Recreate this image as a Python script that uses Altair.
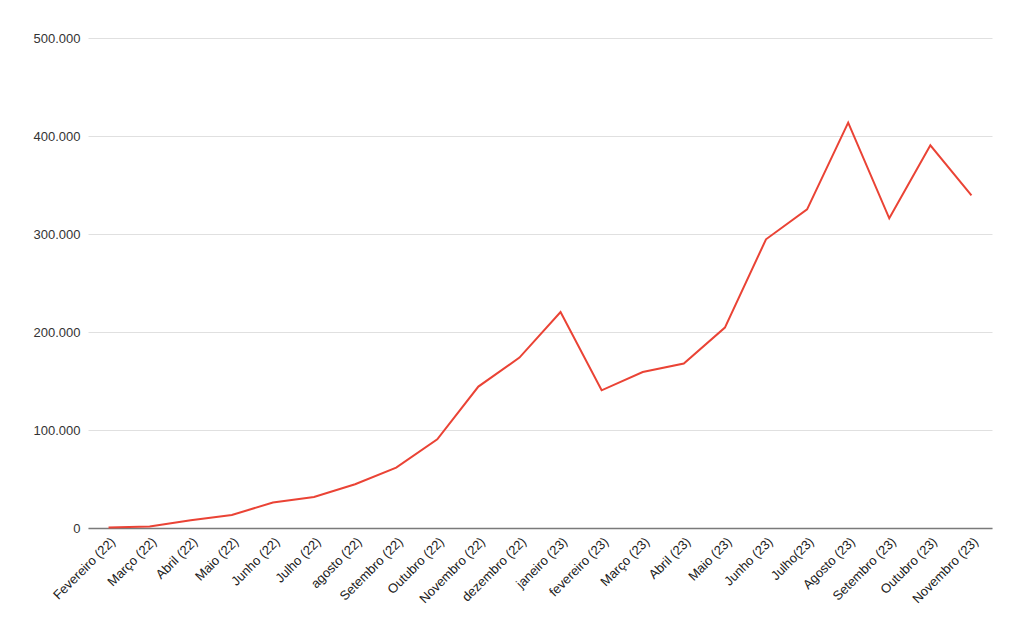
import altair as alt
import pandas as pd

# meses (rótulos como aparecem no gráfico)
meses = [
    "Fevereiro (22)", "Março (22)", "Abril (22)", "Maio (22)", "Junho (22)",
    "Julho (22)", "agosto (22)", "Setembro (22)", "Outubro (22)", "Novembro (22)",
    "dezembro (22)", "janeiro (23)", "fevereiro (23)", "Março (23)", "Abril (23)",
    "Maio (23)", "Junho (23)", "Julho(23)", "Agosto (23)", "Setembro (23)",
    "Outubro (23)", "Novembro (23)",
]

# valores
valores = [
    500, 1500, 7800, 13300, 26000,
    31600, 44600, 61600, 90500, 144300,
    173900, 220400, 140500, 159200, 167800,
    204500, 294600, 325200, 413700, 316000,
    390500, 339500,
]

df = pd.DataFrame({"mes": meses, "valor": valores})

fonte = "Liberation Sans"

chart = alt.Chart(df).mark_line(color="#ea4335", strokeWidth=2).encode(
    x=alt.X(
        "mes:N",
        sort=None,
        title=None,
        scale=alt.Scale(type="point", padding=0.5),
        axis=alt.Axis(
            labelAngle=315,
            labelFont=fonte,
            labelFontSize=13,
            labelColor="#222222",
            ticks=False,
            labelPadding=7,
            domainColor="#7a7a7a",
            domainWidth=1.5,
            grid=False,
        ),
    ),
    y=alt.Y(
        "valor:Q",
        title=None,
        scale=alt.Scale(domain=[0, 500000]),
        axis=alt.Axis(
            values=[0, 100000, 200000, 300000, 400000, 500000],
            labelExpr="replace(format(datum.value, ','), ',', '.')",
            labelFont=fonte,
            labelFontSize=13,
            labelColor="#333333",
            ticks=False,
            domain=False,
            labelPadding=8,
            gridColor="#e0e0e0",
        ),
    ),
).properties(
    width=904,
    height=490,
    autosize=alt.AutoSizeParams(type="none"),
    padding={"left": 80, "top": 30, "right": 24, "bottom": 100},
).configure_view(stroke=None)

chart.save("out.html", embed_options={"renderer": "svg", "actions": False})
